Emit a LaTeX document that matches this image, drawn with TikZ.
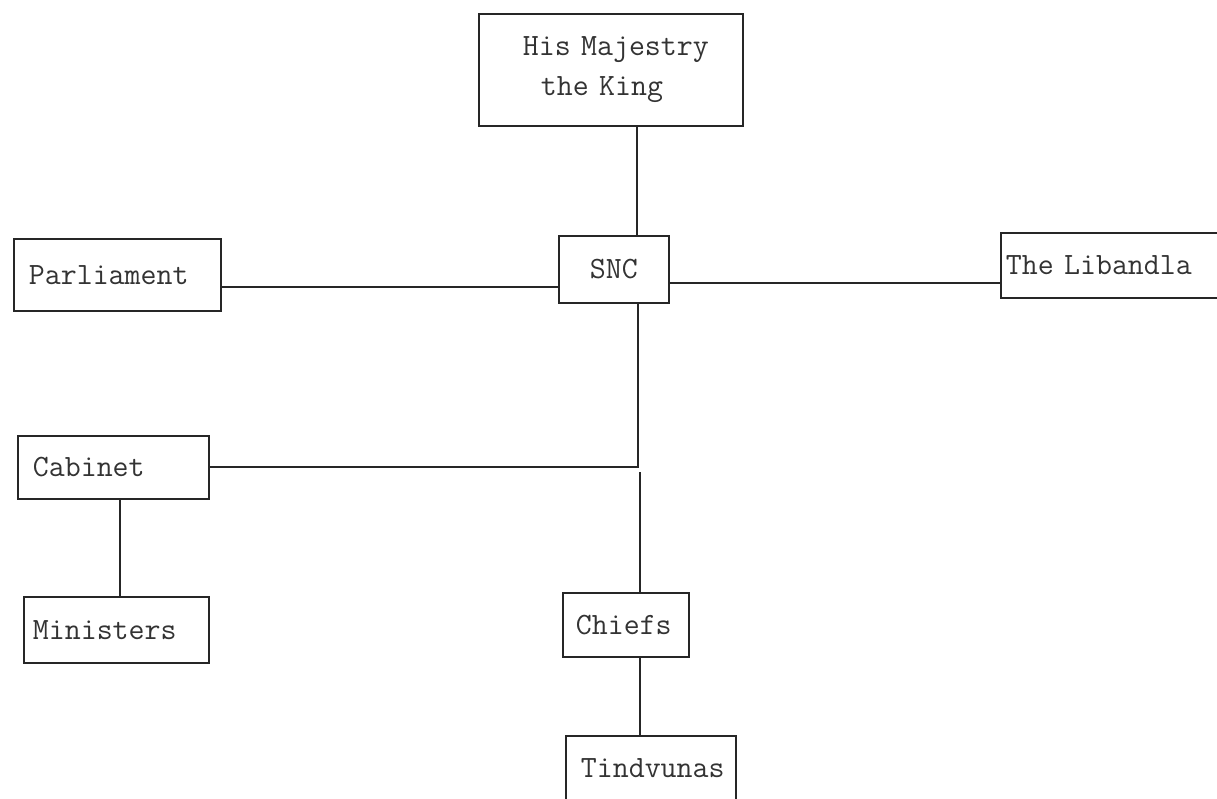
\documentclass[tikz,border=0pt]{standalone}
\usepackage{fontspec}
\tikzset{
  orgbox/.style={draw=black!85, line width=1.8pt, rectangle, text=black!80,
    font=\ttfamily\fontsize{31}{40}\selectfont, inner ysep=0pt, inner xsep=0pt,
    align=left, anchor=north west}
}
\tikzset{link/.style={draw=black!85, line width=1.8pt}}
\begin{document}
\begin{tikzpicture}[x=1pt,y=-1pt]
\useasboundingbox (0,0) rectangle (1217,798);
% boxes
\node[orgbox, minimum width=264pt, minimum height=112pt, text width=264pt]
  (king) at (478,13) {\raisebox{17pt}{\parbox{264pt}{\hspace*{44pt}His Majestry\\\hspace*{62pt}the King}}};
\node[orgbox, minimum width=110pt, minimum height=67pt, text width=110pt, align=center]
  (snc) at (558,235) {SNC};
\node[orgbox, minimum width=207pt, minimum height=72pt, text width=207pt]
  (parl) at (13,238) {\hspace*{15pt}Parliament};
\node[orgbox, minimum width=250pt, minimum height=65pt, text width=250pt]
  (lib) at (1000,232) {\hspace*{5pt}The Libandla};
\node[orgbox, minimum width=191pt, minimum height=63pt, text width=191pt]
  (cab) at (17,435) {\hspace*{15pt}Cabinet};
\node[orgbox, minimum width=185pt, minimum height=66pt, text width=185pt]
  (min) at (23,596) {\hspace*{9pt}Ministers};
\node[orgbox, minimum width=126pt, minimum height=64pt, text width=126pt]
  (chiefs) at (562,592) {\hspace*{13pt}Chiefs};
\node[orgbox, minimum width=170pt, minimum height=64pt, text width=170pt]
  (tind) at (565,735) {\hspace*{15pt}Tindvunas};
% helper coordinates
\coordinate (kx) at (637,0);
\coordinate (py) at (0,287);
\coordinate (ly) at (0,283);
\coordinate (sx) at (638,0);
\coordinate (cy) at (0,467);
\coordinate (cx) at (640,0);
\coordinate (cstart) at (640,472);
\coordinate (mx) at (120,0);
% connectors
\draw[link] (king.south -| kx) -- (snc.north -| kx);
\draw[link] (parl.east |- py) -- (snc.west |- py);
\draw[link] (snc.east |- ly) -- (lib.west |- ly);
\draw[link] (snc.south -| sx) -- (sx |- cy) -- (cab.east |- cy);
\draw[link] (cstart) -- (chiefs.north -| cx);
\draw[link] (cab.south -| mx) -- (min.north -| mx);
\draw[link] (chiefs.south -| cx) -- (tind.north -| cx);
\end{tikzpicture}
\end{document}
